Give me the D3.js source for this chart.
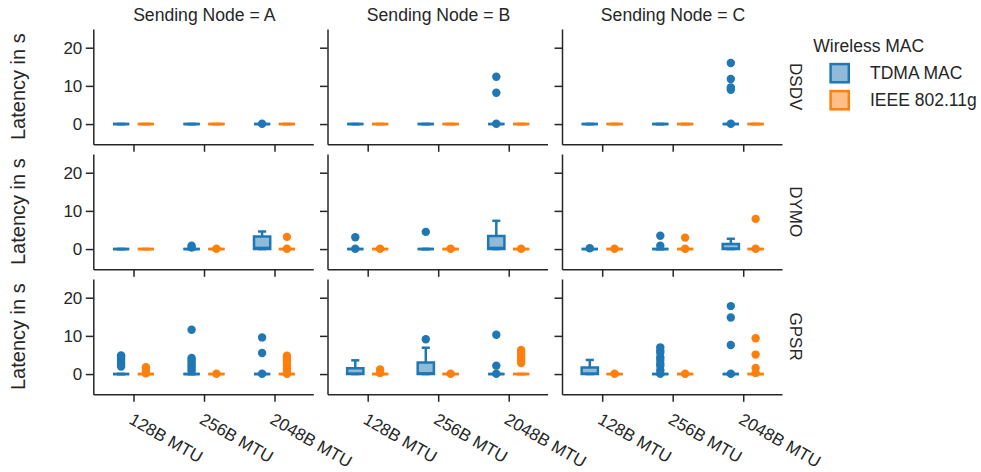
<!DOCTYPE html>
<html>
<head>
<meta charset="utf-8">
<script src="https://cdn.jsdelivr.net/npm/d3@7"></script>
<style>
  html, body { margin: 0; padding: 0; background: #fff; }
  svg { display: block; }
</style>
</head>
<body>
<script>
// Facets and categories
const senders = ["A", "B", "C"];
const protocols = ["DSDV", "DYMO", "GPSR"];
const mtus = ["128B MTU", "256B MTU", "2048B MTU"];
const macs = ["TDMA MAC", "IEEE 802.11g"];
const macColors = ["#1f77b4", "#ff7f0e"];
const macFills = ["#8fbbd9", "#ffbf86"];
const yTicks = [0, 10, 20];

// Box summaries per [sender][mtu]: [low whisker, q1, median, q3, high whisker] in seconds
const dsdvTdmaBoxes = [
  [[0, 0, 0, 0, 0], [0, 0, 0, 0, 0], [0, 0, 0, 0, 0]],
  [[0, 0, 0, 0, 0], [0, 0, 0, 0, 0], [0, 0, 0, 0, 0]],
  [[0, 0, 0, 0, 0], [0, 0, 0, 0, 0], [0, 0, 0, 0, 0]]
];
const dsdvWifiBoxes = [
  [[0, 0, 0, 0, 0], [0, 0, 0, 0, 0], [0, 0, 0, 0, 0]],
  [[0, 0, 0, 0, 0], [0, 0, 0, 0, 0], [0, 0, 0, 0, 0]],
  [[0, 0, 0, 0, 0], [0, 0, 0, 0, 0], [0, 0, 0, 0, 0]]
];
const dymoTdmaBoxes = [
  [[0, 0, 0, 0, 0], [0, 0, 0, 0, 0], [0, 0, 0.3, 3.3, 4.6]],
  [[0, 0, 0, 0, 0], [0, 0, 0, 0, 0], [0, 0, 0.3, 3.4, 7.4]],
  [[0, 0, 0, 0, 0], [0, 0, 0, 0, 0], [0, 0, 0.1, 1.3, 2.7]]
];
const dymoWifiBoxes = [
  [[0, 0, 0, 0, 0], [0, 0, 0, 0, 0], [0, 0, 0, 0, 0]],
  [[0, 0, 0, 0, 0], [0, 0, 0, 0, 0], [0, 0, 0, 0, 0]],
  [[0, 0, 0, 0, 0], [0, 0, 0, 0, 0], [0, 0, 0, 0, 0]]
];
const gpsrTdmaBoxes = [
  [[0, 0, 0, 0, 0], [0, 0, 0, 0, 0], [0, 0, 0, 0, 0]],
  [[0, 0, 0.1, 1.5, 3.6], [0, 0, 0.2, 3.0, 6.9], [0, 0, 0, 0, 0]],
  [[0, 0, 0.1, 1.7, 3.7], [0, 0, 0, 0, 0], [0, 0, 0, 0, 0]]
];
const gpsrWifiBoxes = [
  [[0, 0, 0, 0, 0], [0, 0, 0, 0, 0], [0, 0, 0, 0, 0]],
  [[0, 0, 0, 0, 0], [0, 0, 0, 0, 0], [0, 0, 0, 0, 0]],
  [[0, 0, 0, 0, 0], [0, 0, 0, 0, 0], [0, 0, 0, 0, 0]]
];

// Outlier latencies per [sender][mtu], in seconds
const dsdvTdmaOutliers = [
  [[], [], [0.1]],
  [[], [], [12.4, 8.2, 0.1]],
  [[], [], [16.0, 11.8, 9.6, 9.0, 0.1]]
];
const dsdvWifiOutliers = [
  [[], [], []],
  [[], [], []],
  [[], [], []]
];
const dymoTdmaOutliers = [
  [[], [0.9, 0.4], []],
  [[3.1, 0.1], [4.5], []],
  [[0.2], [3.5, 0.9], []]
];
const dymoWifiOutliers = [
  [[], [0.1], [3.2, 0.1]],
  [[0.1], [0.1], [0.1]],
  [[0.1], [3.0, 0.1], [7.9, 0.1]]
];
const gpsrTdmaOutliers = [
  [[4.9, 4.5, 4.0, 3.5, 3.0, 2.5, 2.0], [11.6, 4.2, 3.7, 3.2, 2.6, 2.0, 1.4, 0.8], [9.6, 5.5, 0.1]],
  [[], [9.1], [10.3, 2.2, 0.1]],
  [[], [7.0, 6.2, 5.6, 4.4, 3.7, 2.8, 2.2, 1.0, 0.1], [17.8, 14.8, 7.6, 0.1]]
];
const gpsrWifiOutliers = [
  [[1.8, 0.9, 0.2], [0.1], [4.8, 4.3, 3.6, 2.9, 2.2, 1.4, 0.6, 0.1]],
  [[1.2, 0.3], [0.1], [6.3, 5.7, 5.0, 4.3, 3.6, 2.9]],
  [[0.1], [0.1], [9.4, 5.1, 1.6, 0.3]]
];

const boxesByProtocol = [
  [dsdvTdmaBoxes, dsdvWifiBoxes],
  [dymoTdmaBoxes, dymoWifiBoxes],
  [gpsrTdmaBoxes, gpsrWifiBoxes]
];
const outliersByProtocol = [
  [dsdvTdmaOutliers, dsdvWifiOutliers],
  [dymoTdmaOutliers, dymoWifiOutliers],
  [gpsrTdmaOutliers, gpsrWifiOutliers]
];

// Layout
const W = 981, H = 472;
const colX = [93.3, 327.5, 562], panelW = 220;
const rowY = [29, 154, 279], panelH = 115.3;
const xDomain = [-0.57, 2.55], yDomain = [-5.3, 24.9];
const dodge = 0.176, boxWidth = 0.23;
const ink = "#262626";
const fontFamily = "'Liberation Sans', Arial, sans-serif";

const svg = d3.select("body").append("svg")
  .attr("width", W).attr("height", H)
  .style("font-family", fontFamily);

function styleAxis(sel) {
  sel.attr("font-family", null).attr("font-size", null).attr("color", ink);
  sel.select(".domain").attr("stroke-width", 1.5);
  sel.selectAll(".tick line").attr("stroke-width", 1.5);
  sel.selectAll(".tick text").attr("fill", ink).style("font-size", "17px");
}

protocols.forEach((proto, r) => {
  senders.forEach((sender, c) => {
    const x = d3.scaleLinear().domain(xDomain).range([colX[c], colX[c] + panelW]);
    const y = d3.scaleLinear().domain(yDomain).range([rowY[r] + panelH, rowY[r]]);
    const panel = svg.append("g").attr("class", `panel ${proto}-${sender}`);

    // Axes
    const yAxis = d3.axisLeft(y).tickValues(yTicks).tickSize(7.5).tickSizeOuter(0).tickPadding(3.5)
      .tickFormat(c === 0 ? d3.format("d") : () => "");
    panel.append("g").attr("transform", `translate(${colX[c]},0)`).call(yAxis).call(styleAxis);

    const xAxis = d3.axisBottom(x).tickValues(mtus.map((_, i) => i)).tickSize(7.5).tickSizeOuter(0)
      .tickFormat(r === protocols.length - 1 ? (i => mtus[i]) : () => "");
    const xg = panel.append("g").attr("transform", `translate(0,${rowY[r] + panelH})`).call(xAxis).call(styleAxis);
    xg.selectAll(".tick text")
      .attr("x", null).attr("y", null).attr("dy", null)
      .attr("text-anchor", "start")
      .attr("transform", "translate(-6,28.5) rotate(30)");

    // Boxes, whiskers, medians and outliers
    macs.forEach((mac, m) => {
      const stats = boxesByProtocol[r][m][c];
      const outs = outliersByProtocol[r][m][c];
      const color = macColors[m];
      mtus.forEach((mtu, i) => {
        const [lo, q1, med, q3, hi] = stats[i];
        const pos = i + (m === 0 ? -dodge : dodge);
        const cx = x(pos);
        const half = (x(boxWidth) - x(0)) / 2;
        const g = panel.append("g").attr("class", "box");
        g.append("path")
          .attr("d", `M${cx - half},${y(q3)}H${cx + half}V${y(q1)}H${cx - half}Z`)
          .attr("fill", macFills[m]).attr("stroke", color).attr("stroke-width", 2.5);
        // whiskers
        g.append("line").attr("x1", cx).attr("x2", cx).attr("y1", y(q3)).attr("y2", y(hi))
          .attr("stroke", color).attr("stroke-width", 2.5);
        g.append("line").attr("x1", cx).attr("x2", cx).attr("y1", y(q1)).attr("y2", y(lo))
          .attr("stroke", color).attr("stroke-width", 2.5);
        // caps
        [lo, hi].forEach(v => {
          g.append("line").attr("x1", cx - half / 2).attr("x2", cx + half / 2)
            .attr("y1", y(v)).attr("y2", y(v))
            .attr("stroke", color).attr("stroke-width", 2.5);
        });
        // median
        g.append("line").attr("x1", cx - half).attr("x2", cx + half)
          .attr("y1", y(med)).attr("y2", y(med))
          .attr("stroke", color).attr("stroke-width", 2.5);
        // outliers
        g.selectAll("circle").data(outs[i]).join("circle")
          .attr("cx", cx).attr("cy", d => y(d)).attr("r", 4.2)
          .attr("fill", color);
      });
    });
  });
});

// Column titles
senders.forEach((s, c) => {
  svg.append("text")
    .attr("x", colX[c] + panelW / 2 + 1).attr("y", 21)
    .attr("text-anchor", "middle").attr("fill", ink)
    .style("font-size", "17.6px")
    .text(`Sending Node = ${s}`);
});

// Row labels (left axis label and right margin title)
protocols.forEach((p, r) => {
  const cy = rowY[r] + panelH / 2;
  svg.append("text")
    .attr("transform", `translate(24.5,${cy}) rotate(-90)`)
    .attr("text-anchor", "middle").attr("fill", ink)
    .style("font-size", "20px")
    .text("Latency in s");
  svg.append("text")
    .attr("transform", `translate(789.5,${cy}) rotate(90)`)
    .attr("text-anchor", "middle").attr("fill", ink)
    .style("font-size", "17px")
    .text(p);
});

// Legend
const legend = svg.append("g").attr("class", "legend");
legend.append("text").attr("x", 813.3).attr("y", 51.7).attr("fill", ink)
  .style("font-size", "17.5px").text("Wireless MAC");
macs.forEach((mac, m) => {
  const cy = 73.2 + m * 27;
  legend.append("rect")
    .attr("x", 839.7 - 9.1).attr("y", cy - 9.1).attr("width", 18.2).attr("height", 18.2)
    .attr("fill", macFills[m]).attr("stroke", macColors[m]).attr("stroke-width", 2.5);
  legend.append("text").attr("x", 870).attr("y", cy + 6.1).attr("fill", ink)
    .style("font-size", "17.5px").text(mac);
});
</script>
</body>
</html>
